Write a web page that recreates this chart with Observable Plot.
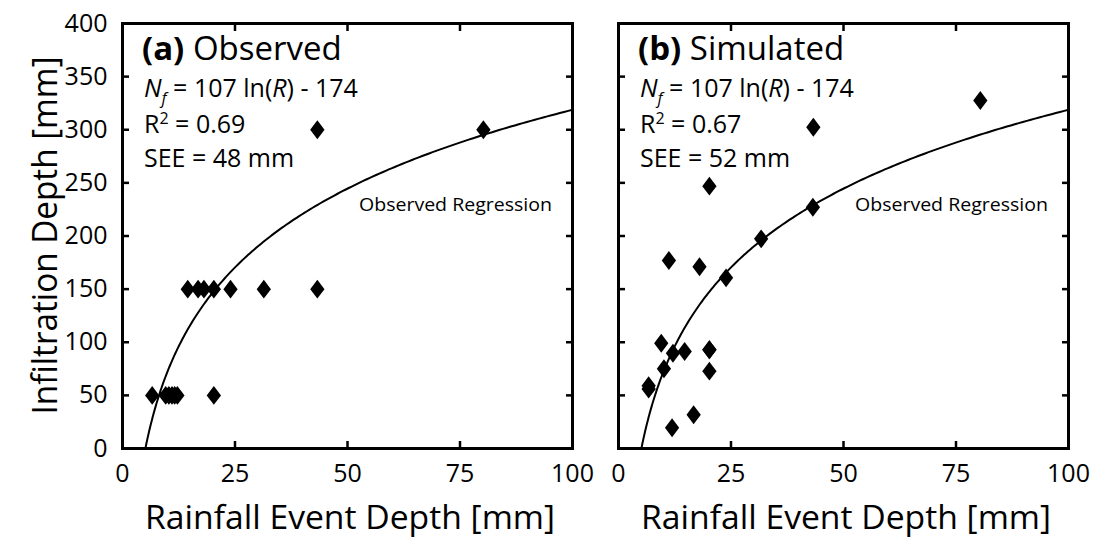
<!DOCTYPE html>
<html><head><meta charset="utf-8">
<script src="https://cdn.jsdelivr.net/npm/d3@7"></script>
<script src="https://cdn.jsdelivr.net/npm/@observablehq/plot@0.6"></script>
<style>
body{margin:0;background:#fff;}
#wrap{display:flex;width:1102px;height:538px;}
svg{display:block;overflow:visible}
</style></head><body><div id="wrap"></div>
<script>
// Panel (a) observed
const obsRain  = [6.6, 9.6, 10.3, 11.0, 11.6, 12.2, 20.3, 14.5, 16.8, 18.1, 20.3, 24.0, 31.4, 43.3, 43.3, 80.2];
const obsInfil = [50, 50, 50, 50, 50, 50, 50, 150, 150, 150, 150, 150, 150, 150, 300, 300];
// Panel (b) simulated
const simRain  = [6.7, 6.7, 9.5, 10.1, 11.2, 11.9, 12.1, 14.7, 16.7, 18.0, 20.2, 20.2, 20.2, 20.2, 23.9, 31.7, 43.2, 43.3, 80.4];
const simInfil = [59, 56, 99, 75, 177, 19.5, 89.7, 91.3, 31.7, 171, 246.9, 92.9, 72.8, 92.9, 160.6, 197.3, 227, 302.4, 327.5];
// Observed regression: N_f = 107 ln(R) - 174
const regCoefA = 107, regCoefB = -174;
const xTicks = [0, 25, 50, 75, 100];
const yTicks = [0, 50, 100, 150, 200, 250, 300, 350, 400];
const panelTitles = [["(a)", " Observed"], ["(b)", " Simulated"]];
const r2Values = ["0.69", "0.67"];
const seeValues = ["48", "52"];
const xTitle = "Rainfall Event Depth [mm]";
const yTitle = "Infiltration Depth [mm]";
const curveLabel = "Observed Regression";

const FONT = "'Open Sans', 'DejaVu Sans', sans-serif";
const regX0 = Math.exp(-regCoefB / regCoefA);
const regCurve = d3.range(0, 201).map(i => regX0 + (100 - regX0) * Math.pow(i / 200, 2))
  .map(x => ({x, y: regCoefA * Math.log(x) + regCoefB}));

const rhombus = {
  draw(ctx, size) {
    const s = Math.sqrt(size);
    const h = s * 0.82, w = s * 0.62;
    ctx.moveTo(0, -h); ctx.lineTo(w, 0); ctx.lineTo(0, h); ctx.lineTo(-w, 0); ctx.closePath();
  }
};

function panel(rain, infil, idx) {
  const left = idx === 0;
  const pts = rain.map((r, i) => ({r, n: infil[i]}));
  const width = left ? 595 : 507;
  const mL = left ? 122 : 23, mR = left ? 23 : 34;
  const plot = Plot.plot({
    width, height: 538,
    marginLeft: mL, marginRight: mR, marginTop: 23, marginBottom: 90,
    style: {fontFamily: FONT, fontSize: "25px", color: "#000", background: "#fff"},
    x: {domain: [0, 100]},
    y: {domain: [0, 400]},
    marks: [
      Plot.line(regCurve, {x: "x", y: "y", stroke: "#000", strokeWidth: 2}),
      Plot.dot(pts, {x: "r", y: "n", symbol: rhombus, r: 6.5, fill: "#000", stroke: "none"}),
      Plot.axisX(xTicks, {anchor: "bottom", tickSize: -7, tickPadding: 23, strokeWidth: 2.5, fontSize: 25, label: null}),
      Plot.axisX(xTicks, {anchor: "top", tickSize: -7, strokeWidth: 2.5, tickFormat: () => "", label: null}),
      Plot.axisY(yTicks, {anchor: "left", tickSize: -7, tickPadding: 22, strokeWidth: 2.5, fontSize: 25, label: null, tickFormat: left ? (d => d) : (() => "")}),
      Plot.axisY(yTicks, {anchor: "right", tickSize: -7, strokeWidth: 2.5, tickFormat: () => "", label: null}),
      Plot.frame({stroke: "#000", strokeWidth: 3})
    ]
  });
  const sx = plot.scale("x"), sy = plot.scale("y");
  const x0 = sx.apply(0), x100 = sx.apply(100);
  const svg = d3.select(plot);
  const g = svg.append("g").attr("font-family", FONT).attr("fill", "#000").attr("text-anchor", "start");
  // panel title
  const t = g.append("text").attr("x", x0 + 20).attr("y", 60).attr("font-size", 33);
  t.append("tspan").attr("font-weight", "bold").text(panelTitles[idx][0]);
  t.append("tspan").text(panelTitles[idx][1]);
  // equation
  const e = g.append("text").attr("x", x0 + 22).attr("y", 97).attr("font-size", 25);
  e.append("tspan").attr("font-style", "italic").text("N");
  e.append("tspan").attr("font-style", "italic").attr("font-size", 16).attr("dy", 7).text("f");
  e.append("tspan").attr("dy", -7).text(" = 107 ln(");
  e.append("tspan").attr("font-style", "italic").text("R");
  e.append("tspan").text(") - 174");
  const r2 = g.append("text").attr("x", x0 + 22).attr("y", 133).attr("font-size", 25);
  r2.append("tspan").text("R");
  r2.append("tspan").attr("font-size", 16).attr("dy", -9).text("2");
  r2.append("tspan").attr("dy", 9).text(" = " + r2Values[idx]);
  g.append("text").attr("x", x0 + 22).attr("y", 167).attr("font-size", 25).text("SEE = " + seeValues[idx] + " mm");
  g.append("text").attr("x", x0 + 237).attr("y", 211).attr("font-size", 19)
    .attr("textLength", 193).attr("lengthAdjust", "spacingAndGlyphs").text(curveLabel);
  // x title
  g.append("text").attr("x", (x0 + x100) / 2 + 3).attr("y", 529).attr("font-size", 32)
    .attr("text-anchor", "middle").attr("textLength", 410).attr("lengthAdjust", "spacingAndGlyphs").text(xTitle);
  if (left) {
    const yc = (sy.apply(0) + sy.apply(400)) / 2;
    g.append("text").attr("transform", `translate(${x0 - 65},${yc}) rotate(-90)`).attr("font-size", 34)
      .attr("text-anchor", "middle").attr("textLength", 358).attr("lengthAdjust", "spacingAndGlyphs").text(yTitle);
  }
  return plot;
}

const wrap = document.getElementById("wrap");
wrap.appendChild(panel(obsRain, obsInfil, 0));
wrap.appendChild(panel(simRain, simInfil, 1));
</script>
</body></html>
